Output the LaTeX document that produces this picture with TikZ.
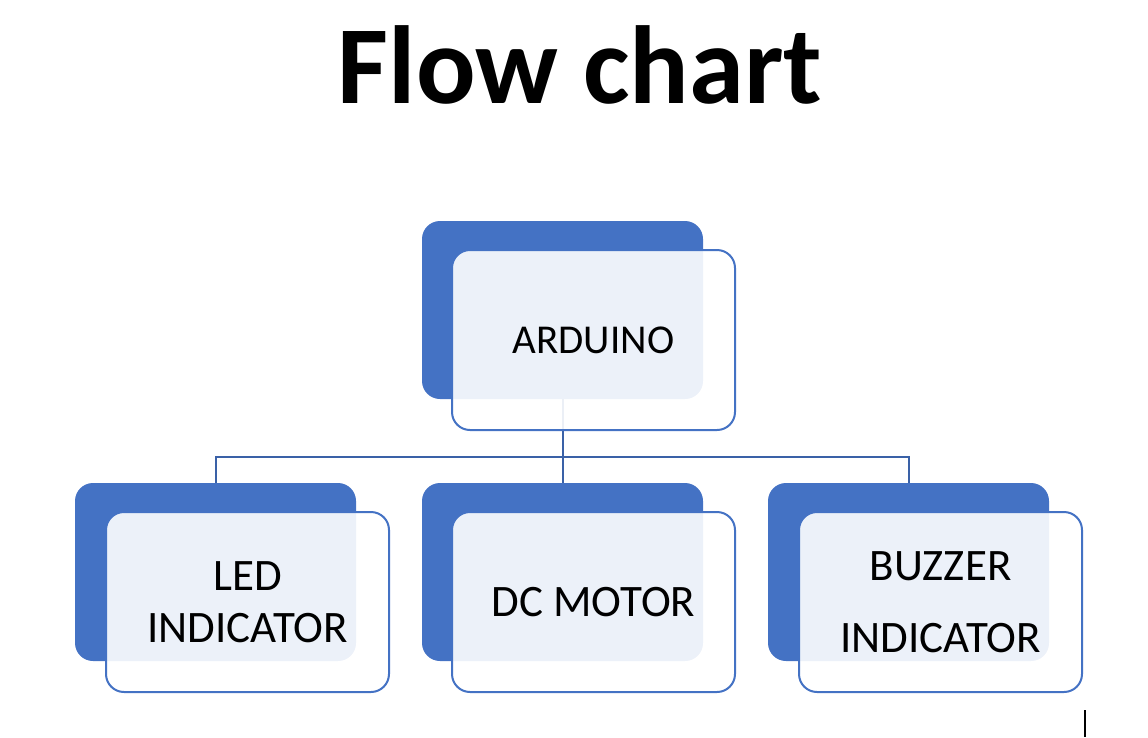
\documentclass[tikz,border=0pt]{standalone}
\usepackage{fontspec}
\setmainfont{Carlito}
\definecolor{officeblue}{HTML}{4472C4}
\begin{document}
\begin{tikzpicture}[x=1pt,y=-1pt,
    back/.style={fill=officeblue, rounded corners=18pt, minimum width=281pt, minimum height=178pt, outer sep=0pt, inner sep=0pt},
    front/.style={draw=officeblue, line width=2pt, fill=white, fill opacity=0.9, text opacity=1, rounded corners=18pt, minimum width=283pt, minimum height=180pt, align=center, font=\fontsize{45}{52}\selectfont},
    link/.style={draw=officeblue!85!black, line width=2pt}]
    \useasboundingbox (0,0) rectangle (1148,737);
    \node[anchor=base, font=\fontsize{111}{120}\selectfont\bfseries] (title) at (580,103) {Flow chart};
    % back shapes
    \node[back] (ardback) at (562.5,310) {};
    \node[back] (ledback) at (215.5,572) {};
    \node[back] (motorback) at (562.5,572) {};
    \node[back] (buzzback) at (908.5,572) {};
    % connectors
    \draw[link] (ardback.south) -- ++(0,58) -| (ledback.north);
    \draw[link] (ardback.south) -- (motorback.north);
    \draw[link] (ardback.south) -- ++(0,58) -| (buzzback.north);
    % front boxes
    \node[front, xshift=31pt, yshift=-30pt, font=\fontsize{41}{49}\selectfont] (arduino) at (ardback) {ARDUINO};
    \node[front, xshift=32pt, yshift=-30pt] (led) at (ledback) {LED\\INDICATOR};
    \node[front, xshift=31pt, yshift=-30pt] (motor) at (motorback) {DC MOTOR};
    \node[front, xshift=32pt, yshift=-30pt] (buzzer) at (buzzback) {BUZZER\\[20pt]INDICATOR};
    \draw[line width=1.2pt] (1085,710) -- (1085,737);
\end{tikzpicture}
\end{document}
